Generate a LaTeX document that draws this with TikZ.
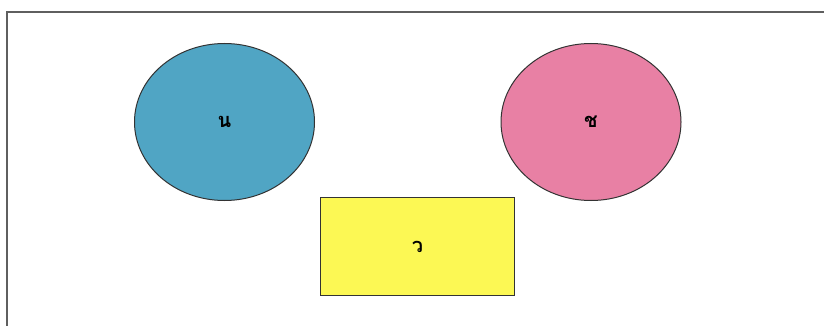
\documentclass[tikz,border=0pt]{standalone}
\usepackage{fontspec}
\newfontfamily\thaifont[Script=Thai]{Loma}
\usetikzlibrary{shapes.geometric, positioning}
\definecolor{setblue}{RGB}{80, 165, 196}
\definecolor{setpink}{RGB}{232, 128, 164}
\definecolor{setyellow}{RGB}{252, 248, 84}
\definecolor{framegray}{RGB}{95, 95, 95}

\begin{document}
\begin{tikzpicture}[
  x=1pt, y=-1pt,
  setcircle/.style={ellipse, draw=black!80, line width=1pt, minimum width=180pt,
              minimum height=157pt, inner sep=0pt,
              font=\thaifont\fontsize{20}{22}\selectfont\bfseries},
  setbox/.style={rectangle, draw=black!80, line width=1pt, fill=setyellow,
              minimum width=194pt, minimum height=98pt,
              font=\thaifont\fontsize{20}{22}\selectfont\bfseries},
]
  \useasboundingbox (0,0) rectangle (824,326);

  % Frame (top and left edges)
  \coordinate (ftl) at (7,12);
  \draw[framegray, line width=1.6pt] (824,12) -- (ftl) -- (7,326);

  % Two ellipses
  \node[setcircle, fill=setblue] (nset) at (224.5,122) {น};
  \node[setcircle, fill=setpink] (chset) at (591,122) {ช};

  % Rectangle below
  \node[setbox] (wset) at (417.5,246.5) {ว};
\end{tikzpicture}
\end{document}
